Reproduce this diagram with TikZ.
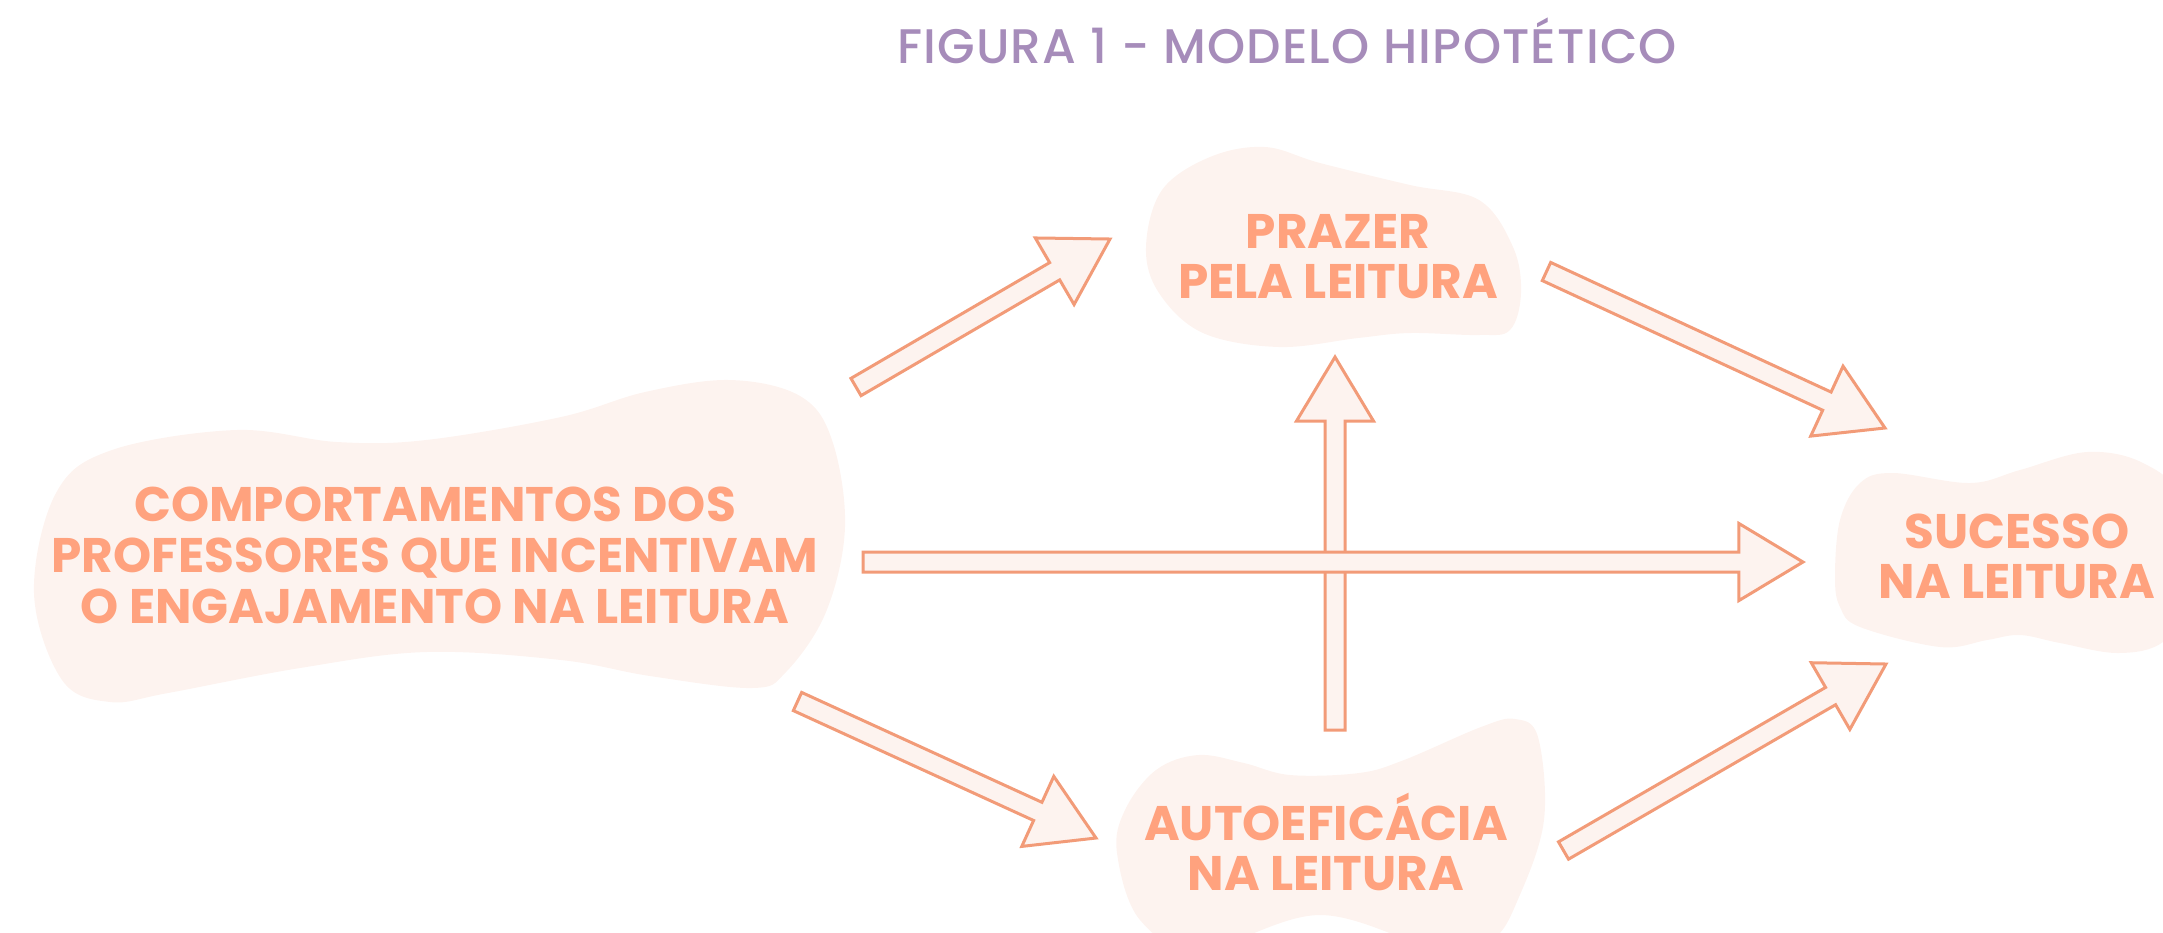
\documentclass[tikz,border=0pt]{standalone}
\usepackage{fontspec}
\setmainfont{Poppins}
\newfontfamily\titlefont{Poppins}[UprightFont=* Medium, LetterSpace=2.5]
\usetikzlibrary{calc}
\definecolor{txt}{HTML}{FFA27E}
\definecolor{blobc}{HTML}{FDF3EF}
\definecolor{arrowc}{HTML}{F29B78}
\definecolor{titlec}{HTML}{A68CBA}
\newcommand\blockarrow[3]{% id, start, end
  \coordinate (#1b) at ($(#3)!0.64cm!(#2)$);
  \draw[barrow] ($(#2)!0.1cm!90:(#3)$) -- ($(#1b)!0.1cm!90:(#3)$) -- ($(#1b)!0.385cm!90:(#3)$) -- (#3)
     -- ($(#1b)!0.385cm!-90:(#3)$) -- ($(#1b)!0.1cm!-90:(#3)$) -- ($(#2)!0.1cm!-90:(#3)$) -- cycle;
}
\begin{document}
\begin{tikzpicture}[x=0.01cm,y=-0.01cm,
  lbl/.style={text=txt, font=\fontsize{13.8}{14}\selectfont\bfseries, inner sep=0, anchor=base},
  ttl/.style={text=titlec, font=\fontsize{13.8}{14}\selectfont\titlefont, inner sep=0, anchor=base},
  blob/.style={fill=blobc, draw=none},
  barrow/.style={draw=arrowc, fill=blobc, line width=0.03cm, line join=miter}]
\useasboundingbox (0,0) rectangle (2163,932);
\clip (0,0) rectangle (2163,932);
% blobs
\path[blob] plot[smooth cycle, tension=0.6] coordinates {(730,380) (800,396) (832,440) (845,527) (826,612) (786,672) (752,688) (650,676) (561,660) (426,652) (300,668) (168,693) (110,702) (62,680) (34,593) (56,493) (112,450) (236,430) (337,442) (426,440) (561,417) (645,392)};
\path[blob] plot[smooth cycle, tension=0.6] coordinates {(1146,247) (1162,190) (1210,157) (1265,147) (1320,163) (1410,185) (1479,200) (1513,247) (1521,293) (1510,330) (1479,335) (1410,333) (1358,338) (1279,347) (1203,333) (1159,293)};
\path[blob] plot[smooth cycle, tension=0.6] coordinates {(1835,577) (1840,520) (1860,483) (1893,473) (1970,483) (2020,470) (2087,452) (2143,463) (2180,500) (2190,600) (2163,642) (2118,653) (2060,643) (2020,635) (1987,640) (1940,647) (1860,627) (1840,607)};
\path[blob] plot[smooth cycle, tension=0.6] coordinates {(1117,853) (1125,810) (1156,770) (1198,755) (1244,763) (1290,775) (1359,773) (1404,760) (1481,727) (1515,719) (1538,737) (1544,820) (1519,897) (1492,940) (1440,950) (1320,915) (1200,950) (1140,920)};
% arrow end points
\coordinate (a1) at (856,387);   \coordinate (a2) at (1110,239);
\coordinate (b1) at (863,562);   \coordinate (b2) at (1803,562);
\coordinate (c1) at (1335,730);  \coordinate (c2) at (1335,357);
\coordinate (d1) at (1546.5,271.5); \coordinate (d2) at (1885,428);
\coordinate (e1) at (797.5,701.5);  \coordinate (e2) at (1096,838);
\coordinate (f1) at (1563.5,850.5); \coordinate (f2) at (1886,664);
\blockarrow{A}{a1}{a2}
\blockarrow{C}{c1}{c2}
\blockarrow{B}{b1}{b2}
\blockarrow{D}{d1}{d2}
\blockarrow{E}{e1}{e2}
\blockarrow{F}{f1}{f2}
% texts
\node[ttl] (title) at (1287,63) {FIGURA 1 - MODELO HIPOTÉTICO};
\node[lbl] (comp1) at (435,521) {COMPORTAMENTOS DOS};
\node[lbl] (comp2) at (435,572) {PROFESSORES QUE INCENTIVAM};
\node[lbl] (comp3) at (435,623) {O ENGAJAMENTO NA LEITURA};
\node[lbl] (praz1) at (1338,248) {PRAZER};
\node[lbl] (praz2) at (1338,298) {PELA LEITURA};
\node[lbl] (suc1) at (2017,548) {SUCESSO};
\node[lbl] (suc2) at (2017,598) {NA LEITURA};
\node[lbl] (auto1) at (1326,840) {AUTOEFICÁCIA};
\node[lbl] (auto2) at (1326,890) {NA LEITURA};
\end{tikzpicture}
\end{document}
